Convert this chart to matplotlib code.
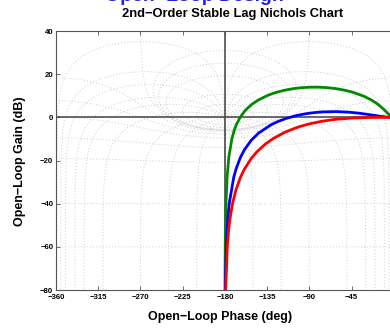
import numpy as np
import matplotlib
matplotlib.use("Agg")
import matplotlib.pyplot as plt

# ---- data (open-loop phase in deg, open-loop gain in dB) ----
green_phase = [0, -3.77, -7.6, -10.62, -15.35, -18.92, -23.96, -31.5, -43.45, -52.03, -62.83,
               -73.06, -81.4, -90, -95.68, -101.2, -106.47, -116.0, -125.9, -133.67, -144.5,
               -151.39, -156.04, -159.36, -163.74, -167.54, -169.8, -172.4, -175.7, -177.6,
               -178.84, -179.62, -179.885]
green_gain = [0, 0.80, 2.42, 3.73, 5.53, 6.70, 8.09, 9.75, 11.64, 12.59, 13.41,
              13.86, 14.01, 13.98, 13.85, 13.64, 13.36, 12.63, 11.52, 10.34, 8.04,
              6.0, 4.21, 2.65, 0.0, -3.15, -5.67, -9.62, -18.09, -27.6,
              -39.9, -59.08, -80.0]

blue_phase = [0, -7.0, -14.77, -28.07, -36.87, -47.67, -60.64, -75.22, -82.69, -90, -96.96,
              -103.42, -114.62, -123.56, -130.6, -144.26, -151.93, -159.15, -163.3, -167.96,
              -170.54, -175.38, -176.93, -178.47, -179.54]
blue_gain = [0, 0.13, 0.53, 1.41, 1.94, 2.41, 2.68, 2.56, 2.31, 1.94, 1.45,
             0.87, -0.47, -1.92, -3.38, -7.34, -10.63, -14.99, -18.44, -23.72,
             -27.72, -39.94, -47.02, -59.08, -80.0]

red_phase = [0, -12.24, -25.0, -43.3, -62.75, -77.0, -90, -97.69, -104.54, -115.87, -128.17,
             -136.69, -146.04, -152.06, -159.34, -163.59, -168.35, -171.87, -174.59, -175.95,
             -177.3, -179.19]
red_gain = [0, 0.0, -0.035, -0.26, -0.93, -1.82, -3.01, -3.92, -4.88, -6.85, -9.71,
            -12.30, -16.03, -19.14, -24.1, -27.97, -33.8, -40.0, -47.04, -52.04,
            -59.08, -80.0]

x_ticks = [-360, -315, -270, -225, -180, -135, -90, -45, 0]
x_tick_labels = ['\u2212360', '\u2212315', '\u2212270', '\u2212225', '\u2212180',
                 '\u2212135', '\u221290', '\u221245', '']
y_ticks = [40, 20, 0, -20, -40, -60, -80]

# Nichols grid levels (closed-loop magnitude dB, closed-loop phase deg)
m_levels = [-80, -60, -40, -20, -12, -6, -3, -1, 0, 0.25, 0.5, 1, 3, 6]
p_levels = [-150, -120, -90, -50, -30, -20, -10, -5, -1, 1, 5, 10, 20, 30, 50, 90, 120, 150]

plt.rcParams['font.family'] = ['Liberation Sans', 'DejaVu Sans']
plt.rcParams['axes.unicode_minus'] = True

fig = plt.figure(figsize=(3.90, 3.29), dpi=100)
ax = fig.add_axes([0.1436, 0.1185, 0.866, 0.787])

# Nichols grid via contours of the closed-loop response
ph = np.linspace(-360, 0, 901)
db = np.linspace(-82, 42, 621)
PH, DB = np.meshgrid(ph, db)
G = 10 ** (DB / 20) * np.exp(1j * np.deg2rad(PH))
with np.errstate(all='ignore'):
    T = G / (1 + G)
    Tm = 20 * np.log10(np.abs(T))
    Tp = np.angle(T, deg=True)
gcol = '#cccccc'
ax.contour(PH, DB, Tm, levels=m_levels, colors=gcol, linewidths=0.7,
           linestyles=[(0, (1.0, 2.2))], zorder=1)
ax.contour(PH, DB, Tp, levels=p_levels, colors=gcol, linewidths=0.7,
           linestyles=[(0, (1.0, 2.2))], zorder=1)

# cross-hair lines
ax.axvline(-180, color='#404040', lw=1.1, zorder=2)
ax.axhline(0, color='#404040', lw=1.1, zorder=2)

ax.plot(green_phase, green_gain, color='#008a00', lw=2.0, zorder=3)
ax.plot(blue_phase, blue_gain, color='#0000ff', lw=2.0, zorder=3)
ax.plot(red_phase, red_gain, color='#ff0000', lw=2.0, zorder=3)

ax.set_xlim(-360, 0)
ax.set_ylim(-80, 40)
ax.set_xticks(x_ticks)
ax.set_xticklabels(x_tick_labels)
ax.set_yticks(y_ticks)
ax.tick_params(direction='in', length=3, width=0.6, top=True, right=True,
               labelsize=5.6, colors='#555555', labelcolor='black')
ax.tick_params(axis='x', pad=3.2)
ax.tick_params(axis='y', pad=2)
for lab in ax.get_xticklabels() + ax.get_yticklabels():
    lab.set_fontweight('bold')
for s in ax.spines.values():
    s.set_color('#555555')
    s.set_linewidth(0.8)

fig.text(0.597, 0.957, '2nd\u2212Order Stable Lag Nichols Chart', ha='center', va='center',
         fontsize=9.3, fontweight='bold')
fig.text(0.565, 0.036, 'Open\u2212Loop Phase (deg)', ha='center', va='center',
         fontsize=9.0, fontweight='bold')
fig.text(0.051, 0.51, 'Open\u2212Loop Gain (dB)', ha='center', va='center', rotation=90,
         fontsize=9.0, fontweight='bold')
fig.text(0.27, 0.997, 'Open\u2212Loop Design', ha='left', va='baseline',
         fontsize=14, fontweight='bold', color='#2222dd')

fig.savefig('out.png', dpi=100)
